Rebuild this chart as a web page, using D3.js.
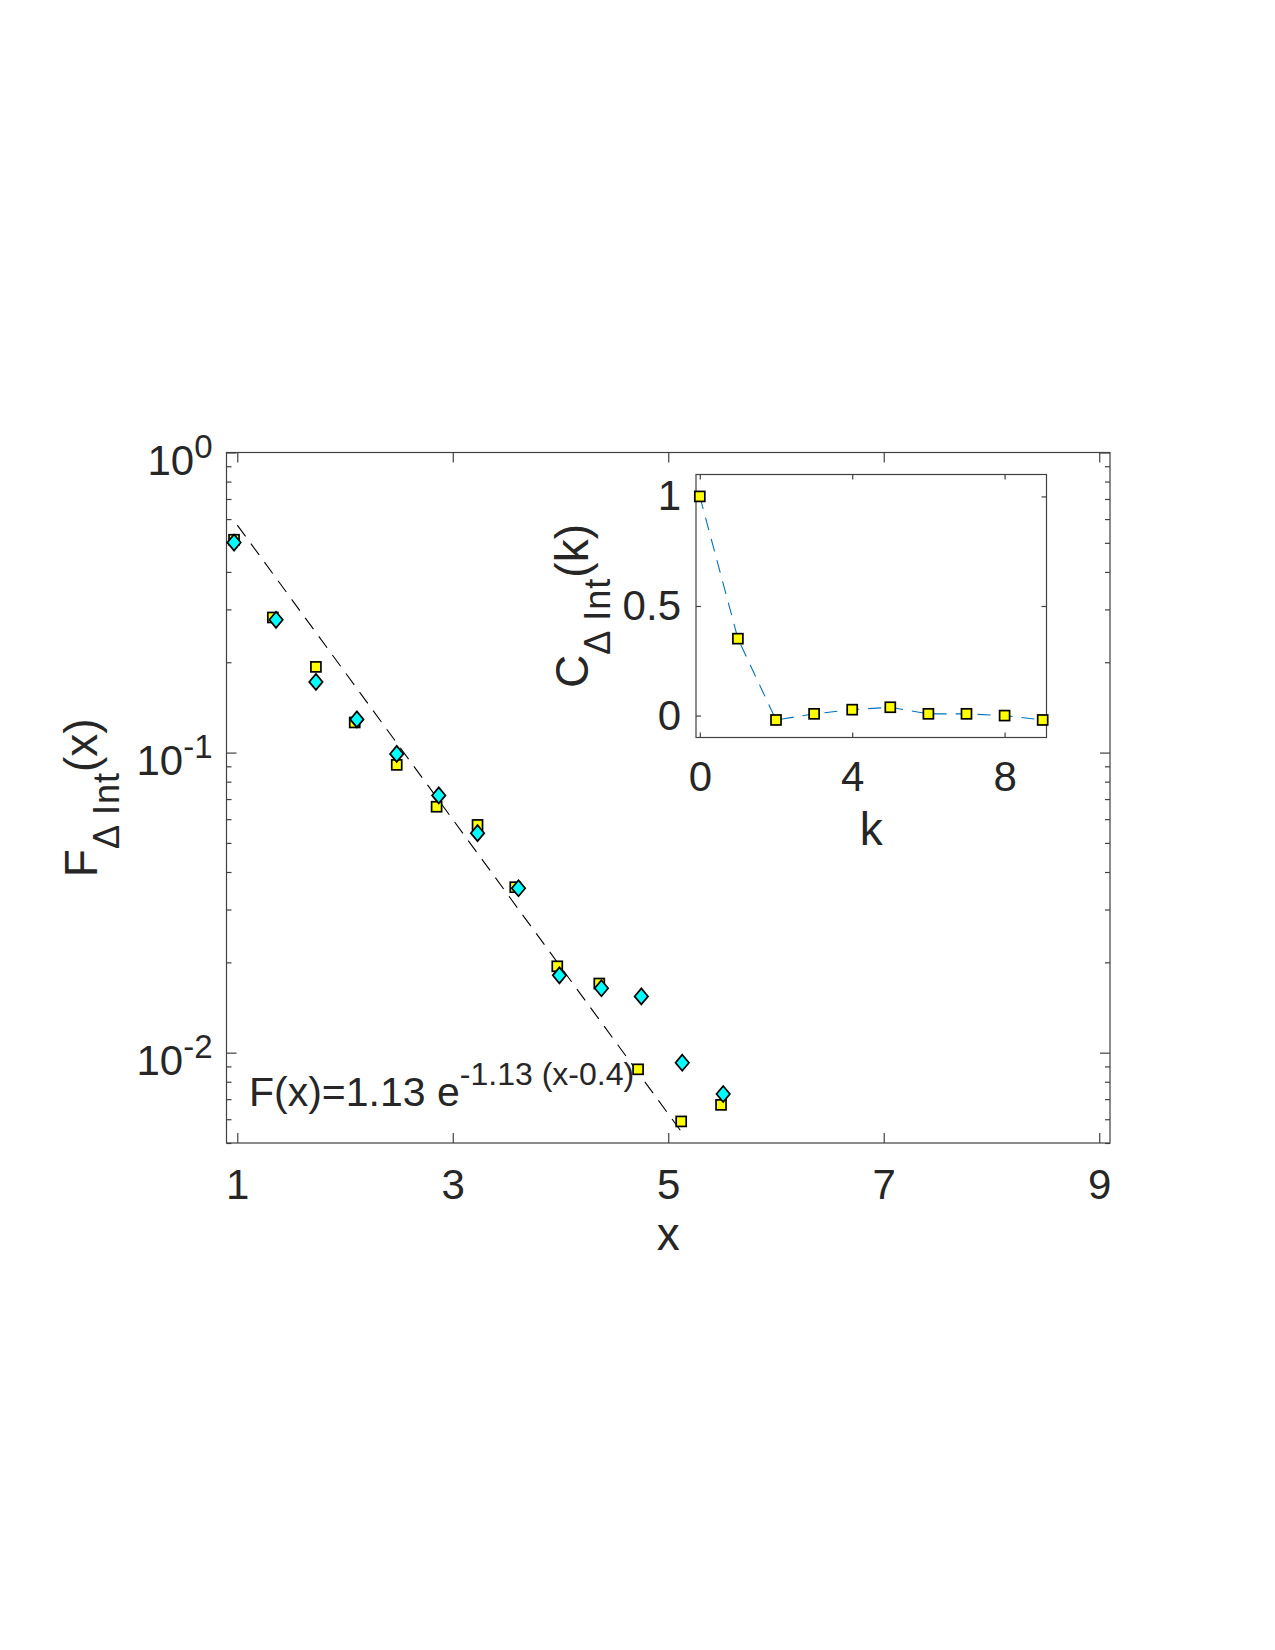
<!DOCTYPE html>
<html>
<head>
<meta charset="utf-8">
<script src="https://cdn.jsdelivr.net/npm/d3@7"></script>
<style>
  body { margin: 0; background: #fff; }
  svg { display: block; }
  text { font-family: "Liberation Sans", Arial, Helvetica, sans-serif; fill: #262626; }
</style>
</head>
<body>
<div id="chart"></div>
<script>
document.addEventListener("DOMContentLoaded", function () {

    // main panel: yellow squares and cyan diamonds
    const sqX = [0.97, 1.33, 1.73, 2.09, 2.48, 2.85, 3.23, 3.58, 3.97, 4.36, 4.72, 5.12, 5.49];
    const sqY = [0.512, 0.282, 0.193, 0.126, 0.091, 0.066, 0.0574, 0.0356, 0.0194, 0.0170, 0.0088, 0.0059, 0.0067];
    const diX = [0.97, 1.36, 1.73, 2.11, 2.48, 2.87, 3.23, 3.61, 3.99, 4.38, 4.75, 5.13, 5.51];
    const diY = [0.501, 0.277, 0.172, 0.129, 0.099, 0.072, 0.0539, 0.0353, 0.0181, 0.0164, 0.0154, 0.00926, 0.00728];

    // dashed fit line end points
    const fitX = [1.0, 5.13];
    const fitY = [0.573, 0.0054];

    const xTicks = [1, 3, 5, 7, 9];
    const yMajor = [1, 0.1, 0.01];
    const yMajorExp = ["0", "-1", "-2"];

    // inset: autocorrelation
    const kVals = [0, 1, 2, 3, 4, 5, 6, 7, 8, 9];
    const cVals = [1.0, 0.351, -0.020, 0.008, 0.027, 0.038, 0.008, 0.008, 0.0, -0.020];
    const kTicks = [0, 4, 8];
    const cTicks = [0, 0.5, 1];

    const axisColor = "#262626";
    const tickFont = 42;

    const svg = d3.select("#chart").append("svg")
        .attr("width", 1275)
        .attr("height", 1650);

    // ---------- main axes ----------
    const box = { left: 226.5, right: 1110, top: 452.5, bottom: 1143 };

    const x = d3.scaleLinear().domain([0.9, 9.1]).range([box.left, box.right]);
    const y = d3.scaleLog().domain([0.005, 1]).range([box.bottom, box.top]);

    const main = svg.append("g");

    function styleAxis(g) {
        g.select(".domain").remove();
        g.selectAll("line").attr("stroke", "#404040").attr("stroke-width", 1.2);
    }

    // x ticks bottom/top, inward
    main.append("g").attr("transform", `translate(0,${box.bottom})`)
        .call(d3.axisBottom(x).tickValues(xTicks).tickSize(-10).tickPadding(26))
        .call(styleAxis)
        .call(g => g.selectAll("text").attr("font-size", tickFont).attr("fill", axisColor)
            .style("font-family", "'Liberation Sans', Arial, sans-serif"));
    main.append("g").attr("transform", `translate(0,${box.top})`)
        .call(d3.axisTop(x).tickValues(xTicks).tickSize(-10).tickFormat(""))
        .call(styleAxis);

    // y ticks (minor + major), left and right, inward
    const minor = y.ticks().filter(v => yMajor.indexOf(v) < 0);
    main.append("g").attr("transform", `translate(${box.left},0)`)
        .call(d3.axisLeft(y).tickValues(minor).tickSize(-5).tickFormat(""))
        .call(styleAxis);
    main.append("g").attr("transform", `translate(${box.left},0)`)
        .call(d3.axisLeft(y).tickValues(yMajor).tickSize(-10).tickFormat(""))
        .call(styleAxis);
    main.append("g").attr("transform", `translate(${box.right},0)`)
        .call(d3.axisRight(y).tickValues(minor).tickSize(-5).tickFormat(""))
        .call(styleAxis);
    main.append("g").attr("transform", `translate(${box.right},0)`)
        .call(d3.axisRight(y).tickValues(yMajor).tickSize(-10).tickFormat(""))
        .call(styleAxis);

    // y tick labels 10^n
    yMajor.forEach((v, i) => {
        const t = main.append("text")
            .attr("x", box.left - 14)
            .attr("y", y(v) + 22)
            .attr("text-anchor", "end")
            .attr("font-size", tickFont);
        t.append("tspan").text("10");
        t.append("tspan").attr("font-size", 33).attr("dy", -17).text(yMajorExp[i]);
    });

    // box
    main.append("rect")
        .attr("x", box.left).attr("y", box.top)
        .attr("width", box.right - box.left).attr("height", box.bottom - box.top)
        .attr("fill", "none").attr("stroke", "#404040").attr("stroke-width", 1.2);

    // axis labels
    main.append("text")
        .attr("x", (box.left + box.right) / 2)
        .attr("y", 1250)
        .attr("text-anchor", "middle")
        .attr("font-size", 46)
        .text("x");

    const yl = main.append("text")
        .attr("transform", `translate(97,${(box.top + box.bottom) / 2}) rotate(-90)`)
        .attr("text-anchor", "middle")
        .attr("font-size", 46);
    yl.append("tspan").text("F");
    yl.append("tspan").attr("font-size", 36).attr("dy", 22).attr("letter-spacing", 1).text("\u0394 Int");
    yl.append("tspan").attr("dy", -22).text("(x)");

    // fit line
    const fitLine = d3.line().x(d => x(d[0])).y(d => y(d[1]));
    main.append("path")
        .datum(d3.zip(fitX, fitY))
        .attr("d", fitLine)
        .attr("fill", "none")
        .attr("stroke", "#000")
        .attr("stroke-width", 1.1)
        .attr("stroke-dasharray", "14,9");

    // squares
    main.selectAll(".sq").data(d3.zip(sqX, sqY)).enter().append("rect")
        .attr("class", "sq")
        .attr("x", d => x(d[0]) - 5)
        .attr("y", d => y(d[1]) - 5)
        .attr("width", 10).attr("height", 10)
        .attr("fill", "#ffff00")
        .attr("stroke", "#000").attr("stroke-width", 1.7);

    // diamonds
    main.selectAll(".di").data(d3.zip(diX, diY)).enter().append("path")
        .attr("class", "di")
        .attr("transform", d => `translate(${x(d[0])},${y(d[1])})`)
        .attr("d", "M0,-8 L6.7,0 L0,8 L-6.7,0 Z")
        .attr("fill", "#00ffff")
        .attr("stroke", "#000").attr("stroke-width", 1.7);

    // annotation
    const ann = main.append("text")
        .attr("x", 249)
        .attr("y", 1106)
        .attr("font-size", 41);
    ann.append("tspan").text("F(x)=1.13 e");
    ann.append("tspan").attr("font-size", 32).attr("dy", -21).text("-1.13 (x-0.4)");

    // ---------- inset ----------
    const ib = { left: 696, right: 1046.5, top: 474.5, bottom: 737.5 };
    const kx = d3.scaleLinear().domain([-0.1, 9.1]).range([ib.left, ib.right]);
    const cy = d3.scaleLinear().domain([-0.1, 1.1]).range([ib.bottom, ib.top]);

    const inset = svg.append("g");
    inset.append("rect")
        .attr("x", ib.left).attr("y", ib.top)
        .attr("width", ib.right - ib.left).attr("height", ib.bottom - ib.top)
        .attr("fill", "#fff");

    inset.append("g").attr("transform", `translate(0,${ib.bottom})`)
        .call(d3.axisBottom(kx).tickValues(kTicks).tickSize(-5).tickPadding(24))
        .call(styleAxis)
        .call(g => g.selectAll("text").attr("font-size", tickFont).attr("fill", axisColor)
            .style("font-family", "'Liberation Sans', Arial, sans-serif"));
    inset.append("g").attr("transform", `translate(0,${ib.top})`)
        .call(d3.axisTop(kx).tickValues(kTicks).tickSize(-5).tickFormat(""))
        .call(styleAxis);
    inset.append("g").attr("transform", `translate(${ib.left},0)`)
        .call(d3.axisLeft(cy).tickValues(cTicks).tickSize(-5).tickPadding(15).tickFormat(d3.format("")))
        .call(styleAxis)
        .call(g => g.selectAll("text").attr("font-size", tickFont).attr("fill", axisColor)
            .style("font-family", "'Liberation Sans', Arial, sans-serif"));
    inset.append("g").attr("transform", `translate(${ib.right},0)`)
        .call(d3.axisRight(cy).tickValues(cTicks).tickSize(-5).tickFormat(""))
        .call(styleAxis);

    inset.append("rect")
        .attr("x", ib.left).attr("y", ib.top)
        .attr("width", ib.right - ib.left).attr("height", ib.bottom - ib.top)
        .attr("fill", "none").attr("stroke", "#404040").attr("stroke-width", 1.2);

    inset.append("text")
        .attr("x", (ib.left + ib.right) / 2)
        .attr("y", 845)
        .attr("text-anchor", "middle")
        .attr("font-size", 46)
        .text("k");

    const il = inset.append("text")
        .attr("transform", `translate(588,${(ib.top + ib.bottom) / 2}) rotate(-90)`)
        .attr("text-anchor", "middle")
        .attr("font-size", 46);
    il.append("tspan").text("C");
    il.append("tspan").attr("font-size", 36).attr("dy", 22).attr("letter-spacing", 1).text("\u0394 Int");
    il.append("tspan").attr("dy", -22).text("(k)");

    const cLine = d3.line().x(d => kx(d[0])).y(d => cy(d[1]));
    inset.append("path")
        .datum(d3.zip(kVals, cVals))
        .attr("d", cLine)
        .attr("fill", "none")
        .attr("stroke", "#0072bd")
        .attr("stroke-width", 1.1)
        .attr("stroke-dasharray", "13,9");

    inset.selectAll(".isq").data(d3.zip(kVals, cVals)).enter().append("rect")
        .attr("class", "isq")
        .attr("x", d => kx(d[0]) - 5)
        .attr("y", d => cy(d[1]) - 5)
        .attr("width", 10).attr("height", 10)
        .attr("fill", "#ffff00")
        .attr("stroke", "#000").attr("stroke-width", 1.7);
});
</script>
</body>
</html>
